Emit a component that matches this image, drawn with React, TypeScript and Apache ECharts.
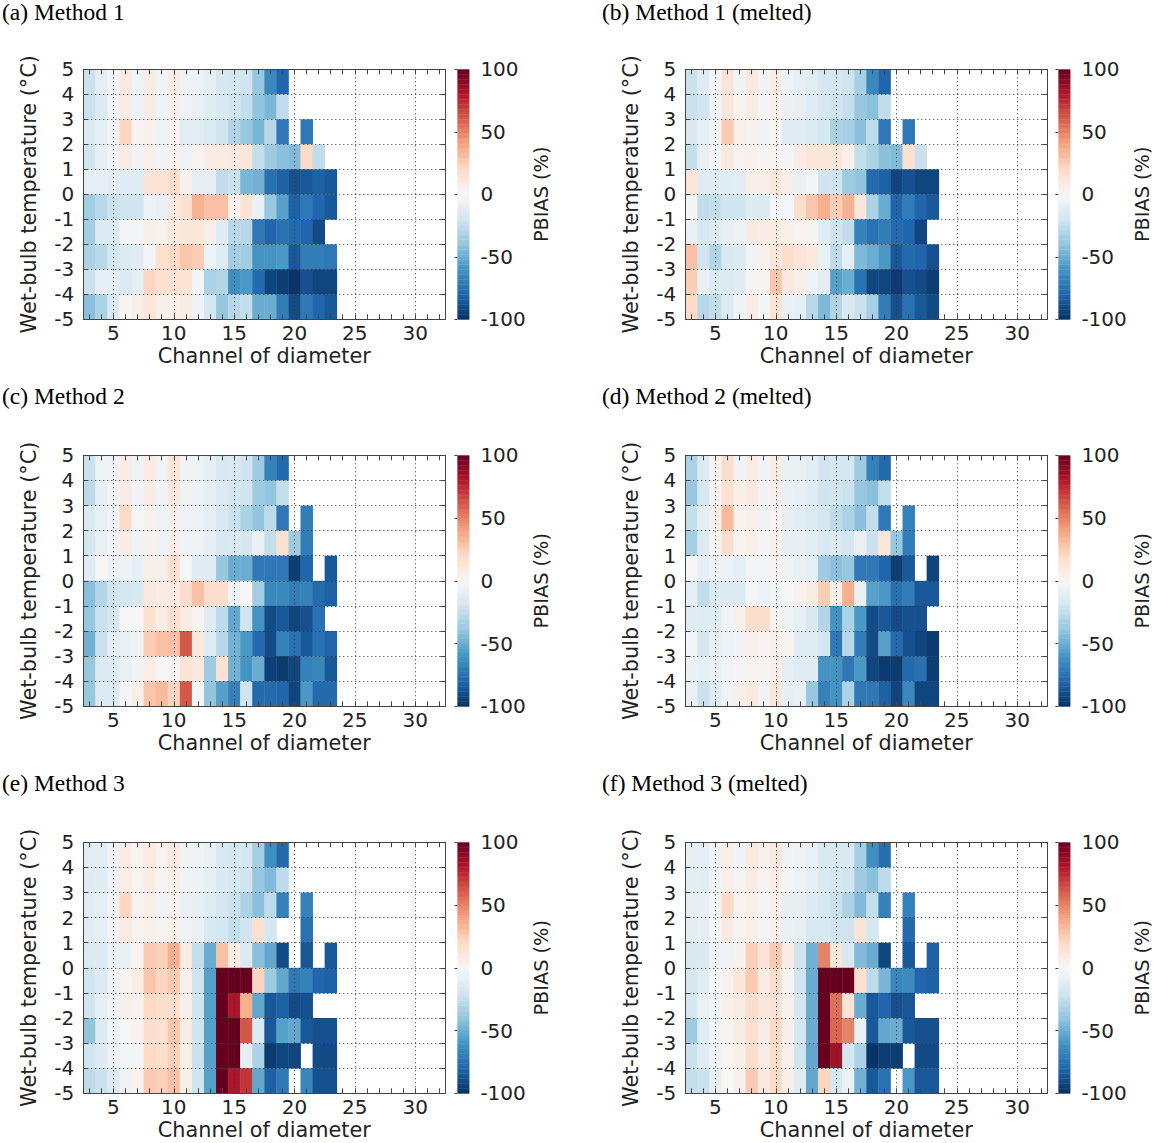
import React, { useEffect, useRef } from "react";
import * as echarts from "echarts";

const channels = [3, 4, 5, 6, 7, 8, 9, 10, 11, 12, 13, 14, 15, 16, 17, 18, 19, 20, 21, 22, 23];
const rowLowerEdges = [4, 3, 2, 1, 0, -1, -2, -3, -4, -5];
const xTickLabels = [5, 10, 15, 20, 25, 30];
const xMinorTicks = [3, 4, 5, 6, 7, 8, 9, 10, 11, 12, 13, 14, 15, 16, 17, 18, 19, 20, 21, 22, 23, 24, 25, 26, 27, 28, 29, 30, 31, 32];
const colormap = ["#053061", "#2166ac", "#4393c3", "#92c5de", "#d1e5f0", "#f7f7f7", "#fddbc7", "#f4a582", "#d6604d", "#b2182b", "#67001f"];
const _ = null;

const method1 = [
  [-22, -10, -3, 10, -5, 8, -3, 7, -4, -6, -9, -17, -18, -20, -38, -65, -80, _, _, _, _],
  [-22, -14, -3, 8, -6, 8, -3, 6, -5, -8, -12, -16, -20, -24, -40, -46, -25, _, _, _, _],
  [-14, -9, -3, 22, 2, 4, -5, 3, -11, -11, -14, -20, -30, -38, -46, -28, -72, _, -72, _, _],
  [-20, -9, -3, 8, -3, 5, -3, 4, -5, 3, 8, 9, 10, 12, -24, -36, -42, -44, 20, -25, _],
  [-10, -10, -11, -12, -12, 14, 14, 18, 4, -10, -10, -25, -22, -46, -48, -75, -82, -88, -85, -82, -85],
  [-35, -28, -22, -20, -20, -6, -8, 10, 16, 35, 30, 30, 4, 14, -7, -38, -55, -82, -72, -80, -85],
  [-35, -14, -14, -2, -2, 6, 4, 10, 12, 12, 6, -12, -28, -28, -72, -80, -75, -78, -80, -90, _],
  [-32, -28, -18, -14, -12, -2, 16, 20, 28, 25, -5, -12, -35, -35, -60, -60, -58, -85, -70, -70, -72],
  [-22, -10, -10, -14, -9, 22, 16, 14, 14, -2, -32, -30, -62, -58, -78, -92, -95, -98, -88, -92, -92],
  [-42, -32, -15, 2, 6, 12, 6, 6, 8, -4, -18, -38, -28, -24, -50, -50, -70, -90, -72, -80, -85],
];
const method1Melted = [
  [-22, -12, -2, 14, -3, 10, -3, 8, -5, -9, -11, -18, -18, -20, -33, -65, -80, _, _, _, _],
  [-22, -20, -3, 12, 3, 8, -2, 5, -7, -8, -12, -18, -20, -24, -38, -42, -25, _, _, _, _],
  [-15, -9, -3, 26, 5, 4, -3, 2, -12, -12, -14, -18, -32, -34, -42, -26, -72, _, -72, _, _],
  [-24, -8, -2, 10, 3, 4, 2, 3, -2, 8, 12, 12, 12, 6, -24, -32, -42, -44, 16, -22, _],
  [12, -12, -12, -12, -11, 6, 6, 12, 6, -7, -2, -20, -20, -36, -40, -78, -82, -92, -88, -92, -92],
  [-2, -25, -24, -20, -20, -13, -14, -1, -1, 18, 28, 36, 25, 35, 12, -32, -50, -80, -70, -80, -85],
  [-8, -18, -14, -8, -6, 10, 8, 8, 5, 3, 2, -12, -20, -25, -68, -75, -70, -78, -80, -92, _],
  [30, -20, -30, -16, -14, -3, 4, 12, 17, 14, 10, -8, -25, -10, -45, -50, -58, -85, -78, -80, -88],
  [25, -7, -14, -14, -12, 2, 2, 28, 10, 6, -5, -10, -55, -50, -75, -92, -92, -96, -88, -90, -95],
  [20, -28, -24, -14, -3, 8, -2, 14, -8, -9, -28, -45, -30, -16, -22, -33, -70, -88, -75, -85, -90],
];
const method2 = [
  [-22, -5, -4, 8, -5, 9, -3, 12, -3, -5, -9, -16, -15, -20, -36, -68, -78, _, _, _, _],
  [-27, -9, -3, 8, -3, 8, -3, 10, -5, -6, -10, -14, -18, -20, -36, -40, -24, _, _, _, _],
  [-14, -8, -3, 20, -1, 4, -5, 5, -5, -6, -10, -16, -22, -32, -40, -26, -72, _, -70, _, _],
  [-18, -8, -3, 8, -5, 4, -5, 6, -4, -4, -9, -16, -15, -18, -7, -24, 16, -36, -70, _, _],
  [-12, 1, -6, -6, -9, 6, 6, 16, -1, -12, -12, -38, -50, -50, -72, -72, -72, -95, -80, _, -85],
  [-42, -30, -20, -18, -16, 10, 8, 8, 18, 30, 18, 18, -5, 0, -35, -65, -65, -70, -68, -78, -82],
  [-38, -22, -18, 0, 0, 16, 8, 16, 8, 2, -12, -26, -52, -20, -60, -90, -85, -92, -88, -75, _],
  [-48, -22, -9, -7, -4, 25, 30, 30, 62, 10, -12, -28, -48, -58, -78, -90, -68, -75, -85, -75, -80],
  [-38, -14, -13, -7, -3, 7, 1, 2, 14, 10, -36, 15, -48, -60, -50, -94, -96, -92, -68, -66, -85],
  [-38, -14, -14, -2, 6, 28, 32, 22, 62, -2, -40, -55, -68, -20, -78, -78, -80, -92, -58, -78, -78],
];
const method2Melted = [
  [-32, -14, 2, 18, -4, 8, -3, 8, -8, -8, -11, -20, -18, -18, -36, -68, -78, _, _, _, _],
  [-38, -18, 2, 16, 6, 10, -3, 6, -7, -9, -12, -20, -20, -22, -38, -42, -24, _, _, _, _],
  [-24, -10, 6, 32, 3, 5, -4, 3, -9, -11, -14, -18, -26, -32, -42, -24, -72, _, -68, _, _],
  [-34, -14, 2, 18, 3, 6, -2, 5, -9, -9, -11, -16, -14, -18, -7, -22, 12, -38, -70, _, _],
  [1, -10, -6, -6, -10, -2, -2, 3, -3, -8, -10, -36, -42, -38, -72, -72, -80, -95, -85, _, -93],
  [-10, -25, -14, -14, -14, -2, -6, -3, 0, 4, 8, 25, 6, 36, -8, -55, -58, -75, -70, -85, -85],
  [-12, -12, -12, -3, 5, 18, 18, 3, -5, -8, -16, -30, -60, -32, -58, -90, -85, -90, -88, -88, _],
  [-2, -18, -8, -6, -3, 4, 3, 5, 2, -12, -12, -18, -72, -28, -70, -90, -55, -78, -88, -92, -96],
  [-7, -9, -7, -3, -2, 3, 2, 5, -10, -12, -12, -60, -60, -72, -58, -92, -96, -96, -78, -75, -95],
  [-7, -22, -12, -5, 6, 10, -3, 12, -9, -8, -38, -68, -60, -32, -72, -72, -82, -92, -65, -92, -92],
];
const method3 = [
  [-11, -11, -4, 8, 3, 9, 3, 10, -3, -5, -7, -16, -18, -18, -34, -62, -78, _, _, _, _],
  [-12, -12, -4, 7, 3, 8, 2, 6, -3, -6, -9, -15, -18, -20, -38, -44, -26, _, _, _, _],
  [-11, -10, -3, 22, 3, 6, -3, 4, -8, -9, -12, -18, -22, -32, -42, -26, -68, _, -68, _, _],
  [-11, -10, -3, 9, 3, 5, 3, 5, -5, -8, -16, -18, -24, -20, 16, -18, _, _, -75, _, _],
  [-14, -14, -7, -7, 3, 26, 24, 36, 8, -24, -50, 30, 8, -14, -42, -52, -90, _, -86, _, -85],
  [-20, -14, -5, 2, 8, 28, 22, 26, 5, -20, -55, 100, 100, 100, 22, -36, -52, -72, -68, -80, -82],
  [-20, -9, -4, 6, 4, 20, 18, 18, 6, -20, -55, 100, 82, 36, -52, -85, -82, -90, -88, _, _],
  [-40, -13, -5, 0, 3, 18, 16, 28, 8, -20, -55, 100, 100, 62, -14, -85, -55, -52, -85, -88, -88],
  [-20, -13, -6, -2, -2, 20, 18, 24, 6, -22, -55, 100, 100, -10, -32, -96, -92, -92, _, -90, -90],
  [-26, -22, -14, -4, 4, 26, 24, 30, 6, -20, -55, 100, 82, 72, -52, -82, -72, _, -66, -88, -88],
];
const method3Melted = [
  [-9, -10, -4, 6, -3, 10, 5, 10, -3, -4, -8, -16, -16, -16, -34, -62, -76, _, _, _, _],
  [-11, -11, -3, 5, 2, 8, 3, 7, -2, -6, -9, -16, -18, -20, -36, -42, -26, _, _, _, _],
  [-10, -9, -2, 20, 3, 6, -2, 5, -9, -9, -13, -17, -22, -32, -44, -24, -68, _, -68, _, _],
  [-11, -10, -2, 9, 3, 6, -2, 5, -7, -8, -16, -16, -20, -20, 14, -18, _, _, -78, _, _],
  [-16, -15, -6, -5, 4, 24, 14, 26, 8, -20, -48, 50, 12, -16, -44, -50, -92, _, -85, _, -82],
  [-18, -11, -2, 4, 12, 26, 8, 18, 2, -20, -50, 100, 100, 100, 16, -26, -46, -66, -64, -80, -82],
  [-18, -7, -3, 5, 8, 18, 12, 14, 5, -18, -50, 100, 55, 14, -50, -85, -80, -88, -86, _, _],
  [-36, -12, -3, 3, 8, 16, 8, 20, 6, -18, -50, 100, 58, 50, -8, -85, -52, -50, -85, -88, -88],
  [-22, -12, -4, 2, 6, 18, 8, 18, 5, -20, -52, 100, 85, -18, -32, -98, -95, -95, _, -90, -90],
  [-24, -22, -8, 0, 5, 26, 10, 20, 6, -12, -52, 22, -18, -7, -48, -85, -75, _, -58, -85, -85],
];

const panelTitles = ["(a) Method 1", "(b) Method 1 (melted)", "(c) Method 2", "(d) Method 2 (melted)", "(e) Method 3", "(f) Method 3 (melted)"];
const panelData = [method1, method1Melted, method2, method2Melted, method3, method3Melted];

const TICK_FONT = "DejaVu Sans";
const INK = "#222";

const renderCell = (_p: any, api: any) => {
  const x = api.value(0);
  const y = api.value(1);
  const a = api.coord([x - 0.5, y + 1]);
  const b = api.coord([x + 0.5, y]);
  return {
    type: "rect",
    shape: { x: a[0], y: a[1], width: b[0] - a[0] + 0.4, height: b[1] - a[1] + 0.4 },
    style: { fill: api.visual("color") },
  };
};
const renderBarStep = (_p: any, api: any) => {
  const y = api.value(1);
  const a = api.coord([0, y + 2]);
  const b = api.coord([1, y]);
  return {
    type: "rect",
    shape: { x: a[0], y: a[1], width: b[0] - a[0], height: b[1] - a[1] + 0.4 },
    style: { fill: api.visual("color") },
  };
};

function buildOption() {
  const grid: any[] = [];
  const xAxis: any[] = [];
  const yAxis: any[] = [];
  const series: any[] = [];
  const graphic: any[] = [];
  const lefts = [83.3, 685.3];
  const barLefts = [457.4, 1058.4];
  const tops = [69.3, 455.3, 842.3];
  const heights = [250, 251, 251];
  const titleYs = [12, 396, 783];
  const titleXs = [2, 602];

  const levels: number[][] = [];
  for (let v = -100; v < 100; v += 2) levels.push([0, v, v + 1]);

  const gridDots = { color: "#333", width: 1, type: [1, 3] };

  panelData.forEach((rows, idx) => {
    const col = idx % 2;
    const row = Math.floor(idx / 2);
    const top = tops[row];
    const height = heights[row];
    graphic.push({
      type: "text",
      x: titleXs[col],
      y: titleYs[row],
      style: { text: panelTitles[idx], font: '23.5px "Liberation Serif"', fill: "#000", verticalAlign: "middle" },
    });

    const gridIndex = grid.length;
    grid.push({ left: lefts[col], top, width: 362, height, outerBoundsMode: "none" });
    grid.push({ left: barLefts[col], top, width: 12, height, outerBoundsMode: "none" });

    const line = { show: true, onZero: false, lineStyle: { color: "#444", width: 1 } };
    const tick = { show: true, inside: true, length: 5, lineStyle: { color: "#444", width: 1 } };
    const mainX = xAxis.length;
    xAxis.push({
      type: "value", gridIndex, position: "bottom", min: 2.5, max: 32.5, z: 10,
      axisLine: line,
      axisTick: { ...tick, customValues: xMinorTicks },
      axisLabel: { customValues: xTickLabels, fontFamily: TICK_FONT, fontSize: 20, color: INK, margin: 4 },
      splitLine: { show: false },
      name: "Channel of diameter", nameLocation: "middle", nameGap: 26, nameMoveOverlap: false,
      nameTextStyle: { fontFamily: TICK_FONT, fontSize: 20.8, color: INK },
    });
    xAxis.push({
      type: "value", gridIndex, position: "top", min: 2.5, max: 32.5, z: 10,
      axisLine: line,
      axisTick: { ...tick, customValues: xMinorTicks },
      axisLabel: { show: false }, splitLine: { show: false },
    });
    xAxis.push({
      type: "value", gridIndex, position: "bottom", min: 2.5, max: 32.5, z: 10,
      axisLine: { show: false },
      axisTick: { show: false, customValues: xTickLabels },
      axisLabel: { show: false },
      splitLine: { show: true, lineStyle: gridDots },
    });
    const mainY = yAxis.length;
    yAxis.push({
      type: "value", gridIndex, position: "left", min: -5, max: 5, interval: 1, z: 10,
      axisLine: line,
      axisTick: { ...tick },
      axisLabel: { fontFamily: TICK_FONT, fontSize: 20, color: INK, margin: 9 },
      splitLine: { show: true, lineStyle: gridDots },
      name: "Wet-bulb temperature (°C)", nameLocation: "middle", nameGap: 44, nameRotate: 90, nameMoveOverlap: false,
      nameTextStyle: { fontFamily: TICK_FONT, fontSize: 20.8, color: INK },
    });
    yAxis.push({
      type: "value", gridIndex, position: "right", min: -5, max: 5, interval: 1, z: 10,
      axisLine: line,
      axisTick: { ...tick },
      axisLabel: { show: false }, splitLine: { show: false },
    });

    const cells: (number)[][] = [];
    rows.forEach((values, r) => {
      values.forEach((v, c) => {
        if (v !== null) cells.push([channels[c], rowLowerEdges[r], v as number]);
      });
    });
    series.push({
      type: "custom", coordinateSystem: "cartesian2d", xAxisIndex: mainX, yAxisIndex: mainY,
      renderItem: renderCell, data: cells, encode: { x: 0, y: 1 }, silent: true,
    });

    const barX = xAxis.length;
    const barY = yAxis.length;
    xAxis.push({ type: "value", gridIndex: gridIndex + 1, min: 0, max: 1, show: false });
    yAxis.push({
      type: "value", gridIndex: gridIndex + 1, position: "right", min: -100, max: 100, interval: 50, z: 10,
      axisLine: { show: false },
      axisTick: { show: true, inside: true, length: 3, lineStyle: { color: "#444" } },
      axisLabel: { fontFamily: TICK_FONT, fontSize: 20, color: INK, margin: 11 },
      splitLine: { show: false },
      name: "PBIAS (%)", nameLocation: "middle", nameGap: 63, nameRotate: 90, nameMoveOverlap: false,
      nameTextStyle: { fontFamily: TICK_FONT, fontSize: 19.3, color: INK },
    });
    series.push({
      type: "custom", coordinateSystem: "cartesian2d", xAxisIndex: barX, yAxisIndex: barY,
      renderItem: renderBarStep, data: levels, encode: { x: 0, y: 1 }, silent: true,
    });
  });

  return {
    animation: false,
    backgroundColor: "#fff",
    grid, xAxis, yAxis, series, graphic,
    visualMap: {
      show: false, type: "continuous", min: -100, max: 100, dimension: 2,
      seriesIndex: series.map((_s, i) => i),
      inRange: { color: colormap },
    },
  };
}

export default function App() {
  const ref = useRef<HTMLDivElement>(null);
  useEffect(() => {
    const chart = echarts.init(ref.current!, undefined, { renderer: "svg" });
    chart.setOption(buildOption() as any);
    return () => chart.dispose();
  }, []);
  return <div ref={ref} style={{ position: "absolute", left: 0, top: 0, width: 1157, height: 1143 }} />;
}
